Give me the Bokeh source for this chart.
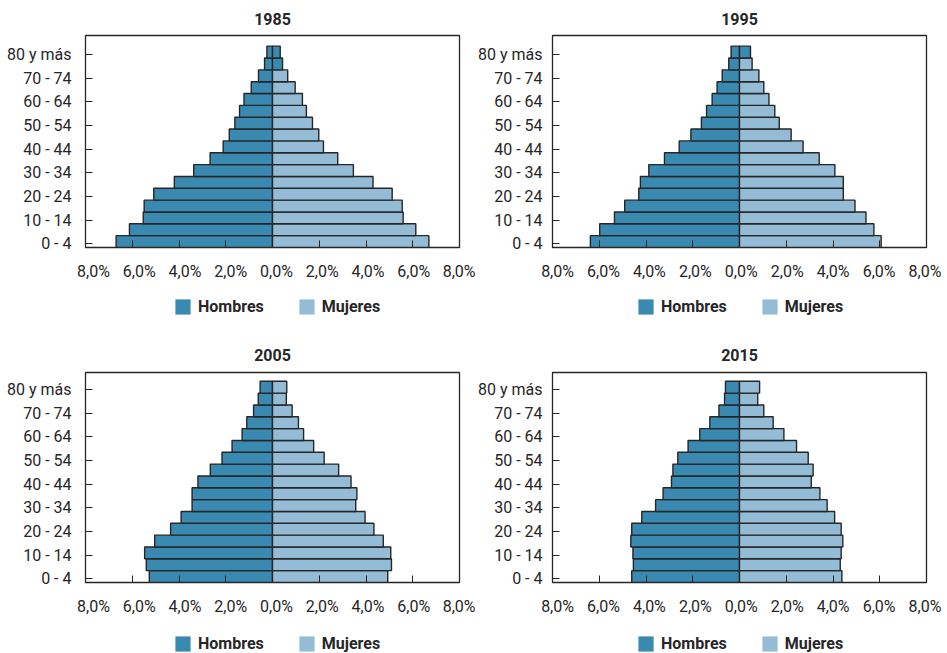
from bokeh.plotting import figure
from bokeh.models import (Range1d, LinearAxis, FixedTicker, CustomJSTickFormatter,
                          Legend, LegendItem, ColumnDataSource)
from bokeh.layouts import column, row
from bokeh.embed import file_html
from bokeh.resources import INLINE

# ---------------- data (bottom group first) ----------------
GROUPS = ["0 - 4", "5 - 9", "10 - 14", "15 - 19", "20 - 24", "25 - 29", "30 - 34",
          "35 - 39", "40 - 44", "45 - 49", "50 - 54", "55 - 59", "60 - 64", "65 - 69",
          "70 - 74", "75 - 79", "80 y más"]
YEARS = ["1985", "1995", "2005", "2015"]
SERIES = ["Hombres", "Mujeres"]

HOMBRES_1985 = [6.69, 6.12, 5.53, 5.49, 5.08, 4.20, 3.37, 2.67, 2.11, 1.85, 1.61, 1.41, 1.22, 0.91, 0.60, 0.34, 0.24]
MUJERES_1985 = [6.69, 6.13, 5.59, 5.55, 5.12, 4.30, 3.46, 2.79, 2.18, 1.98, 1.71, 1.45, 1.28, 0.97, 0.65, 0.43, 0.33]
HOMBRES_1995 = [6.38, 5.98, 5.35, 4.91, 4.31, 4.24, 3.88, 3.21, 2.58, 2.08, 1.63, 1.41, 1.17, 0.96, 0.74, 0.46, 0.36]
MUJERES_1995 = [6.06, 5.75, 5.41, 4.94, 4.44, 4.44, 4.08, 3.41, 2.72, 2.21, 1.70, 1.51, 1.26, 1.04, 0.83, 0.54, 0.47]
HOMBRES_2005 = [5.27, 5.40, 5.47, 5.04, 4.36, 3.91, 3.44, 3.44, 3.19, 2.66, 2.16, 1.73, 1.30, 1.10, 0.81, 0.61, 0.53]
MUJERES_2005 = [4.93, 5.09, 5.06, 4.74, 4.34, 3.96, 3.56, 3.61, 3.36, 2.83, 2.21, 1.76, 1.33, 1.11, 0.84, 0.59, 0.61]
HOMBRES_2015 = [4.61, 4.54, 4.56, 4.65, 4.61, 4.18, 3.59, 3.27, 2.91, 2.85, 2.64, 2.20, 1.70, 1.27, 0.88, 0.64, 0.60]
MUJERES_2015 = [4.38, 4.31, 4.35, 4.42, 4.35, 4.07, 3.75, 3.44, 3.07, 3.15, 2.94, 2.44, 1.90, 1.44, 1.04, 0.78, 0.86]

X_TICKS = [-8, -6, -4, -2, 0, 2, 4, 6, 8]
Y_TICKS = list(range(0, 17, 2))  # every other age group is labelled

# female bars drawn in the darker colour in the original
DARK_FEMALE = {"1985": [15, 16], "1995": [16], "2005": [], "2015": []}

FONT = "Roboto"
TXT = "#262626"
C_H = "#3a89b1"
C_M = "#94bcd6"
EDGE = "#262626"


def make_panel(year, hom, muj, left_col, top_row):
    w = 475 if left_col else 472
    top = 35 if top_row else 37
    h = top + (212 if top_row else 210) + 43
    y_end = 17.6 if top_row else 17.44
    p = figure(width=w, height=h, x_range=Range1d(-8, 8), y_range=Range1d(-0.3, y_end),
               output_backend="svg", toolbar_location=None, tools="",
               min_border_left=85 if left_col else 77, min_border_right=16 if left_col else 21,
               min_border_top=top, min_border_bottom=43,
               background_fill_color="white", border_fill_color="white")
    p.grid.visible = False
    p.outline_line_color = EDGE
    p.outline_line_width = 1.3

    p.title.text = year
    p.title.align = "center"
    p.title.vertical_align = "top"
    p.title.text_font = FONT
    p.title.text_font_size = "16px"
    p.title.text_font_style = "bold"
    p.title.text_color = TXT
    p.title.standoff = 17 if top_row else 19

    fem_colors = [C_H if i in DARK_FEMALE[year] else C_M for i in range(len(GROUPS))]
    src = ColumnDataSource(dict(
        y=[i + 0.2 for i in range(len(GROUPS))],
        hom=[-v for v in hom],
        muj=muj,
        fc=fem_colors,
    ))
    p.hbar(y="y", left="hom", right=0, height=1, source=src,
           fill_color=C_H, line_color=EDGE, line_width=1.4)
    p.hbar(y="y", left=0, right="muj", height=1, source=src,
           fill_color="fc", line_color=EDGE, line_width=1.4)

    # y axis
    ya = p.yaxis[0]
    ya.ticker = FixedTicker(ticks=Y_TICKS)
    ya.major_label_overrides = {t: GROUPS[t] for t in Y_TICKS}
    ya.major_tick_in = 7
    ya.major_tick_out = 0
    ya.minor_tick_line_color = None
    ya.axis_line_color = EDGE
    ya.major_tick_line_color = EDGE
    ya.major_label_standoff = 14 if left_col else 10
    ya.major_label_text_font = FONT
    ya.major_label_text_font_size = "16px"
    ya.major_label_text_color = TXT

    # x axis: ticks only (labels are empty)
    xa = p.xaxis[0]
    xa.ticker = FixedTicker(ticks=X_TICKS)
    xa.formatter = CustomJSTickFormatter(code="return '';")
    xa.major_tick_in = 7
    xa.major_tick_out = 0
    xa.minor_tick_line_color = None
    xa.axis_line_color = EDGE
    xa.major_tick_line_color = EDGE
    xa.major_label_text_font_size = "1px"
    xa.major_label_text_color = None
    xa.major_label_standoff = 0

    # x tick labels (slightly offset to the right as in the original)
    p.extra_x_ranges = {"lab": Range1d(-8.35, 8.001) if left_col else Range1d(-8.22, 8.065)}
    la = LinearAxis(x_range_name="lab", ticker=FixedTicker(ticks=X_TICKS),
                    formatter=CustomJSTickFormatter(
                        code="return Math.abs(tick).toFixed(1).replace('.', ',') + '%';"),
                    axis_line_color=None, major_tick_line_color=None,
                    minor_tick_line_color=None,
                    major_label_standoff=8, major_label_text_font=FONT,
                    major_label_text_font_size="16px", major_label_text_color=TXT)
    p.add_layout(la, "below")
    return p


def make_legend(left_col, top_row):
    w = 475 if left_col else 472
    h = 45 if top_row else 28
    lf = figure(width=w, height=h, x_range=Range1d(0, 1), y_range=Range1d(0, 1),
                output_backend="svg", toolbar_location=None, tools="",
                x_axis_type=None, y_axis_type=None, min_border=0,
                outline_line_color=None, background_fill_color="white",
                border_fill_color="white")
    lf.grid.visible = False
    rh = lf.hbar(y=[0.5], left=[0.0], right=[0.0], height=0.0, fill_color=C_H, line_color=None)
    rm = lf.hbar(y=[0.5], left=[0.0], right=[0.0], height=0.0, fill_color=C_M, line_color=None)
    leg = Legend(items=[LegendItem(label=SERIES[0], renderers=[rh]),
                        LegendItem(label=SERIES[1], renderers=[rm])],
                 orientation="horizontal",
                 location=(173 if left_col else 161, 19 if top_row else 0),
                 label_text_font=FONT, label_text_font_size="16px",
                 label_text_font_style="bold", label_text_color=TXT,
                 glyph_width=19, glyph_height=19, label_standoff=6, spacing=33,
                 padding=0, margin=0,
                 border_line_color=None, background_fill_alpha=0)
    lf.add_layout(leg, "center")
    return lf


p1 = make_panel("1985", HOMBRES_1985, MUJERES_1985, True, True)
p2 = make_panel("1995", HOMBRES_1995, MUJERES_1995, False, True)
p3 = make_panel("2005", HOMBRES_2005, MUJERES_2005, True, False)
p4 = make_panel("2015", HOMBRES_2015, MUJERES_2015, False, False)

layout = column(row(p1, p2), row(make_legend(True, True), make_legend(False, True)),
                row(p3, p4), row(make_legend(True, False), make_legend(False, False)))
open("out.html", "w").write(file_html(layout, INLINE))
